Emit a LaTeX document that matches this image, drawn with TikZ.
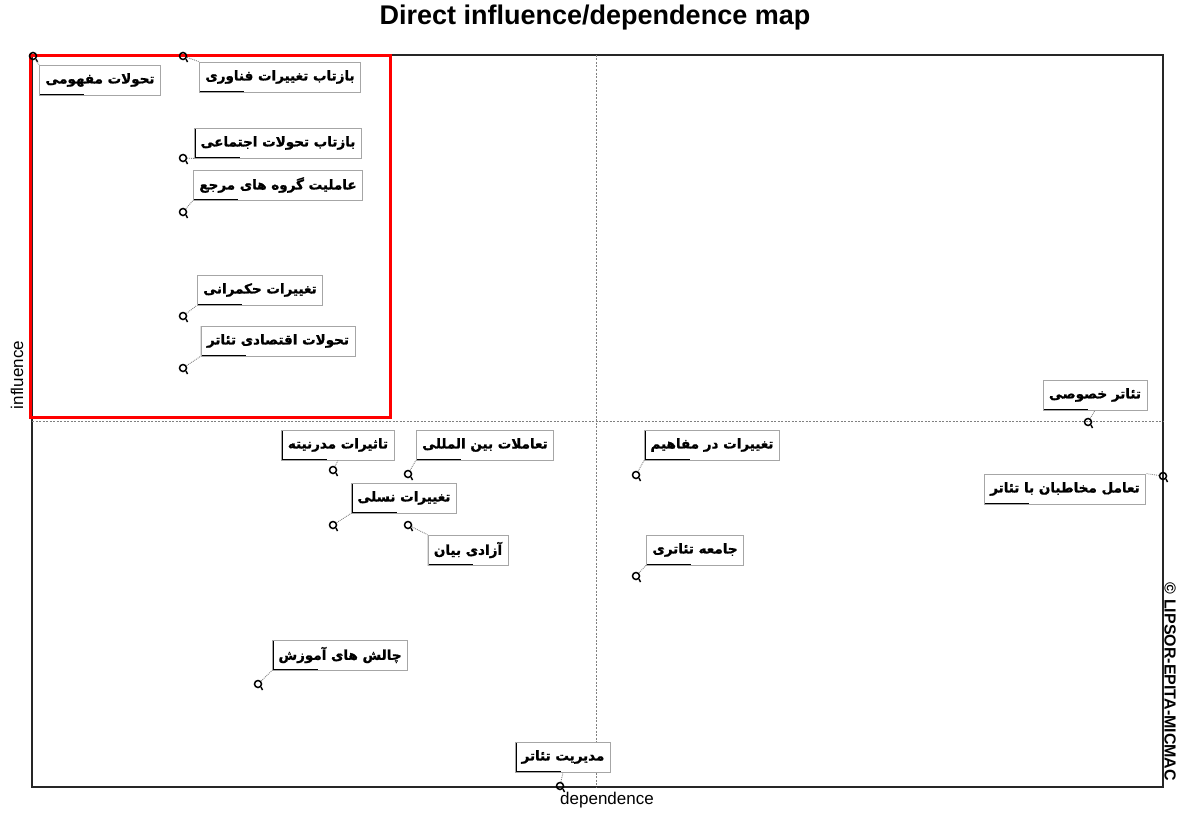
\documentclass[tikz,border=0pt]{standalone}
\usepackage{fontspec}
\setmainfont{Liberation Sans}
\newfontfamily\arabicfont[Script=Arabic, BoldFeatures={FakeBold=1.2}]{DejaVu Sans}
\TeXXeTstate=1
\usetikzlibrary{positioning}
\newcommand{\fa}[1]{\arabicfont\bfseries\beginR #1\endR}
\tikzstyle{factor} = [draw=gray!70, fill=white, line width=0.8pt, minimum height=30pt,
  inner xsep=6pt, font=\fontsize{13.5}{15}\selectfont,
  path picture={\draw[black, line width=2pt]
    (path picture bounding box.north west) -- (path picture bounding box.south west)
    -- ++(45,0);}]
\tikzstyle{pt} = [circle, draw, line width=1.5pt, inner sep=0pt, minimum size=7pt]
\tikzstyle{link} = [gray, densely dotted, line width=0.9pt]

\begin{document}
\begin{tikzpicture}[x=1pt, y=-1pt]
\useasboundingbox (0,0) rectangle (1180,816);
% frame and quadrants
\draw[black!85, line width=1.2pt] (32,55) rectangle (1163,787);
\draw[gray, line width=0.7pt, dash pattern=on 2pt off 1.5pt] (596,55) -- (596,787);
\draw[gray, line width=0.7pt, dash pattern=on 2pt off 1.5pt] (32,421) -- (1163,421);
\draw[red, line width=3pt] (30,56) rectangle (390,417);

% titles
\node[font=\fontsize{27}{29}\selectfont\bfseries] (title) at (595,18) {Direct influence/dependence map};
\node[font=\fontsize{17}{19}\selectfont, rotate=90] (infl) at (17,375) {influence};
\node[font=\fontsize{17}{19}\selectfont] (dep) at (607,800) {dependence};
\node[font=\fontsize{16}{18}\selectfont\bfseries, rotate=-90] (copy) at (1170,682) {\copyright{} LIPSOR-EPITA-MICMAC};

% variables
\node[pt] (p1) at (33,56) {};
\node[pt] (p2) at (183,56) {};
\node[pt] (p3) at (183,158) {};
\node[pt] (p4) at (183,212) {};
\node[pt] (p5) at (183,316) {};
\node[pt] (p6) at (183,368) {};
\node[pt] (p7) at (333,470) {};
\node[pt] (p8) at (408,474) {};
\node[pt] (p9) at (333,525) {};
\node[pt] (p10) at (408,525) {};
\node[pt] (p11) at (258,684) {};
\node[pt] (p12) at (560,786) {};
\node[pt] (p13) at (636,475) {};
\node[pt] (p14) at (636,576) {};
\node[pt] (p15) at (1088,422) {};
\node[pt] (p16) at (1163,476) {};
\foreach \p in {p1,p2,p3,p4,p5,p6,p7,p8,p9,p10,p11,p12,p13,p14,p15,p16}
  \draw[line width=1.5pt] (\p.south east) -- ++(1.5,3);

\node[factor] (b1) at (100,80) {\fa{تحولات مفهومی}};
\node[factor] (b2) at (280,77) {\fa{بازتاب تغییرات فناوری}};
\node[factor] (b3) at (278,143) {\fa{بازتاب تحولات اجتماعی}};
\node[factor] (b4) at (278,185) {\fa{عاملیت گروه های مرجع}};
\node[factor] (b5) at (260,290) {\fa{تغییرات حکمرانی}};
\node[factor] (b6) at (278,341) {\fa{تحولات اقتصادی تئاتر}};
\node[factor] (b7) at (338,445) {\fa{تاثیرات مدرنیته}};
\node[factor] (b8) at (485,445) {\fa{تعاملات بین المللی}};
\node[factor] (b9) at (404,498) {\fa{تغییرات نسلی}};
\node[factor] (b10) at (468,550) {\fa{آزادی بیان}};
\node[factor] (b11) at (340,655) {\fa{چالش های آموزش}};
\node[factor] (b12) at (563,757) {\fa{مدیریت تئاتر}};
\node[factor] (b13) at (712,445) {\fa{تغییرات در مفاهیم}};
\node[factor] (b14) at (695,550) {\fa{جامعه تئاتری}};
\node[factor] (b15) at (1095,395) {\fa{تئاتر خصوصی}};
\node[factor] (b16) at (1065,489) {\fa{تعامل مخاطبان با تئاتر}};

% leaders
\draw[link] (p1) -- (b1.north west);
\draw[link] (p2) -- (b2.north west);
\draw[link] (p3) -- (b3.south west);
\draw[link] (p4) -- (b4.south west);
\draw[link] (p5) -- (b5.south west);
\draw[link] (p6) -- (b6.south west);
\draw[link] (p7) -- (b7.south);
\draw[link] (p8) -- (b8.south west);
\draw[link] (p9) -- (b9.south west);
\draw[link] (p10) -- (b10.north west);
\draw[link] (p11) -- (b11.south west);
\draw[link] (p12) -- (b12.south);
\draw[link] (p13) -- (b13.south west);
\draw[link] (p14) -- (b14.south west);
\draw[link] (p15) -- (b15.south);
\draw[link] (p16) -- (b16.north east);
\end{tikzpicture}
\end{document}
